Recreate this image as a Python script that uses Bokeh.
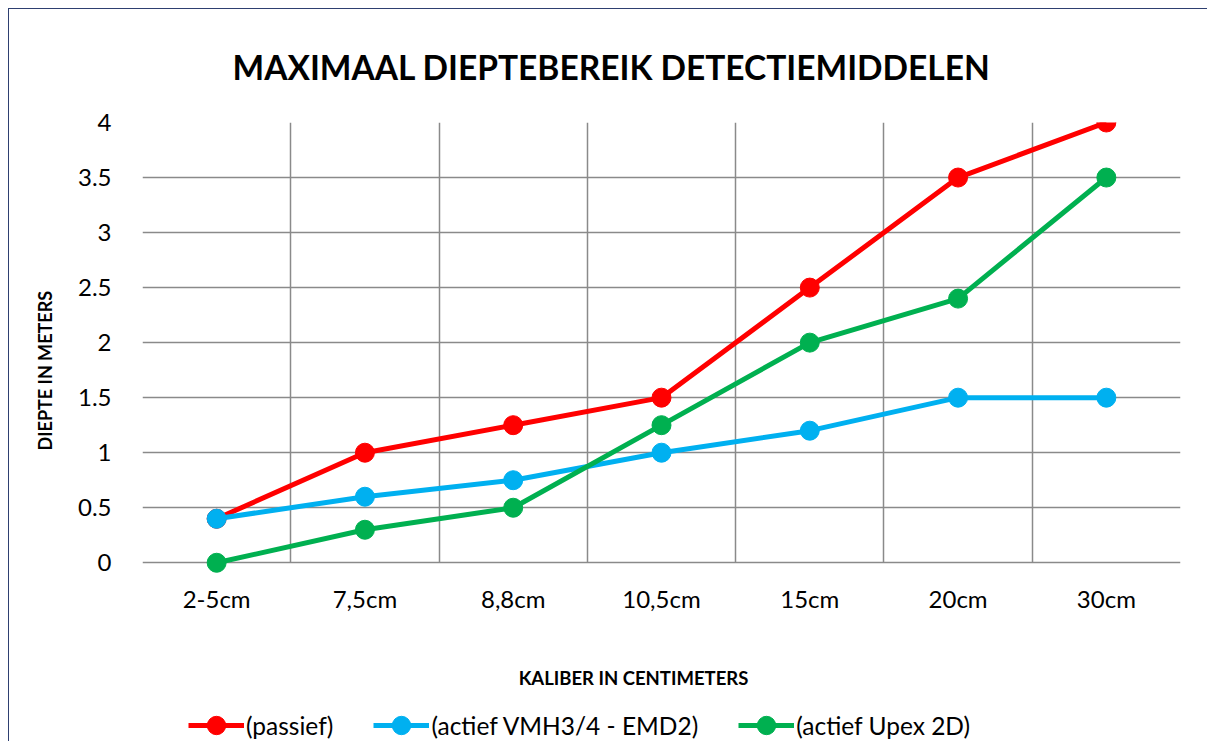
import numpy as np
from bokeh.plotting import figure
from bokeh.models import Range1d, FixedTicker, CustomJSTickFormatter, Legend, LegendItem, Title
from bokeh.embed import file_html
from bokeh.resources import INLINE

categories = ["2-5cm", "7,5cm", "8,8cm", "10,5cm", "15cm", "20cm", "30cm"]
passief = [0.4, 1.0, 1.25, 1.5, 2.5, 3.5, 4.0]
actief_vmh = [0.4, 0.6, 0.75, 1.0, 1.2, 1.5, 1.5]
actief_upex = [0.0, 0.3, 0.5, 1.25, 2.0, 2.4, 3.5]
y_ticks = [0, 0.5, 1, 1.5, 2, 2.5, 3, 3.5, 4]

series_names = ["(passief)", "(actief VMH3/4 - EMD2)", "(actief Upex 2D)"]
series_values = [passief, actief_vmh, actief_upex]
colors = ["#FF0000", "#00B0F0", "#00B050"]

FONT = "Lato"
GRID = "#8A8A8A"
Y_MAX = 4
Y_LO = -1.633          # frame extends below the value axis to hold labels and legend
X_LABEL_SPAN = 6.62    # axis extent used to place the x axis title

ncat = len(categories)
x = [i + 0.5 for i in range(ncat)]
boundaries = list(range(ncat + 1))

p = figure(width=1199, height=733, output_backend="svg", toolbar_location=None,
           x_range=Range1d(0, ncat), y_range=Range1d(Y_LO, Y_MAX),
           min_border_left=133, min_border_right=28, min_border_top=112,
           min_border_bottom=0)

p.styles = {"margin-left": "8px", "margin-top": "8px",
            "border-left": "1px solid #2E3F70", "border-top": "1px solid #2E3F70"}

p.title.text = "MAXIMAAL DIEPTEBEREIK DETECTIEMIDDELEN"
p.title.text_font = FONT
p.title.text_font_style = "bold"
p.title.text_font_size = "33.5px"
p.title.text_color = "#000000"
p.title.align = "left"
p.title.offset = 90
p.title.standoff = 71

p.outline_line_color = None

# axes
p.xaxis.fixed_location = 0
p.xaxis.bounds = (0, X_LABEL_SPAN)
p.xaxis.ticker = FixedTicker(ticks=x)
p.xaxis.major_label_overrides = {xi: c for xi, c in zip(x, categories)}
p.yaxis.ticker = FixedTicker(ticks=y_ticks)
p.yaxis.formatter = CustomJSTickFormatter(code="return tick.toString()")

for ax in (p.xaxis[0], p.yaxis[0]):
    ax.major_tick_line_color = None
    ax.minor_tick_line_color = None
    ax.axis_line_color = None
    ax.major_label_text_font = FONT
    ax.major_label_text_font_size = "24px"
    ax.major_label_text_color = "#000000"
    ax.axis_label_text_font = FONT
    ax.axis_label_text_font_style = "bold"
    ax.axis_label_text_font_size = "18.5px"
    ax.axis_label_text_color = "#000000"

p.xaxis.axis_label = "KALIBER IN CENTIMETERS"
p.xaxis.major_label_standoff = 15
p.xaxis.axis_label_standoff = 51
p.yaxis.major_label_standoff = 25

ytitle = Title(text="DIEPTE IN METERS", align="left", offset=292,
               text_font=FONT, text_font_style="bold", text_font_size="18px",
               text_color="#000000", standoff=38)
p.add_layout(ytitle, "left")

# grids: vertical lines at category boundaries, horizontal at value ticks
p.ygrid.ticker = FixedTicker(ticks=y_ticks)
p.ygrid.grid_line_color = GRID
p.ygrid.grid_line_width = 1.5
if "cross_bounds" in p.xgrid[0].properties():
    p.xgrid.ticker = FixedTicker(ticks=boundaries)
    p.xgrid.cross_bounds = (0, Y_MAX)
    p.xgrid.grid_line_color = GRID
    p.xgrid.grid_line_width = 1.5
else:
    p.xgrid.grid_line_color = None
    p.segment(x0=boundaries, y0=[0] * len(boundaries), x1=boundaries,
              y1=[Y_MAX] * len(boundaries), line_color=GRID, line_width=1.5)

items = []
for name, vals, col in zip(series_names, series_values, colors):
    rl = p.line(x, vals, line_color=col, line_width=5)
    rs = p.scatter(x, vals, size=19, fill_color=col, line_color=col)
    items.append(LegendItem(label=name, renderers=[rl, rs]))

legend = Legend(items=items, orientation="horizontal", location=(46, -6),
                border_line_color=None, background_fill_alpha=0,
                label_text_font=FONT, label_text_font_size="24.5px",
                label_text_color="#000000",
                glyph_width=56, glyph_height=46, spacing=40, label_standoff=2,
                padding=0, margin=0)
p.add_layout(legend, "center")

open("out.html", "w").write(file_html(p, INLINE))
